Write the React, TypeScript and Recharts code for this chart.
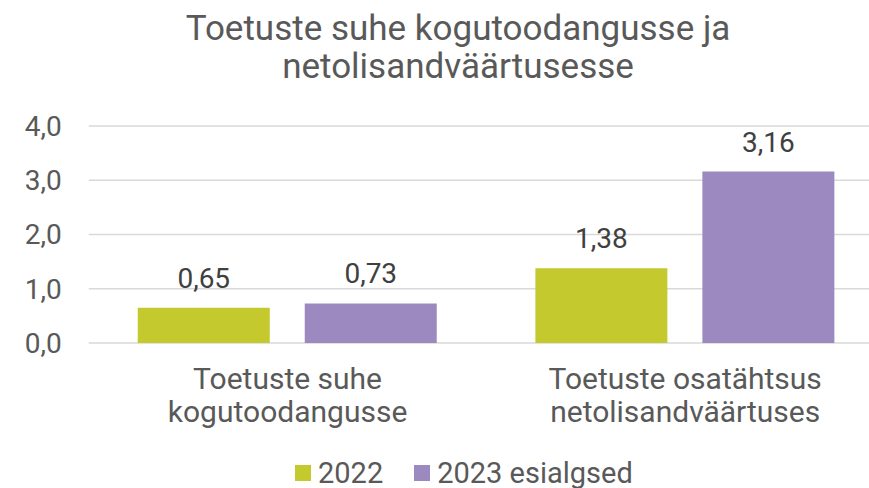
import React from "react";
import { BarChart, Bar, XAxis, YAxis, CartesianGrid, Legend, LabelList } from "recharts";

const categories = ["Toetuste suhe\nkogutoodangusse", "Toetuste osatähtsus\nnetolisandväärtuses"];
const values2022 = [0.65, 1.38];
const values2023 = [0.73, 3.16];
const yTicks = [0, 1, 2, 3, 4];
const seriesNames = ["2022", "2023 esialgsed"];
const titleLines = ["Toetuste suhe kogutoodangusse ja", "netolisandväärtusesse"];

const data = categories.map((c, i) => ({ name: c, a: values2022[i], b: values2023[i] }));

const FONT = "Roboto, sans-serif";
const TEXT = "#595959";

const fmt1 = (v: number) => v.toFixed(1).replace(".", ",");
const fmt2 = (v: number) => Number(v).toFixed(2).replace(".", ",");

const CategoryTick = (props: any) => {
  const { x, y, payload } = props;
  const lines = String(payload.value).split("\n");
  return (
    <text x={x} y={y} textAnchor="middle" fill={TEXT} fontSize={30} fontFamily={FONT}>
      {lines.map((l, i) => (
        <tspan key={i} x={x} dy={i === 0 ? 46 : 33}>
          {l}
        </tspan>
      ))}
    </text>
  );
};

const LegendContent = (props: any) => {
  const { payload } = props;
  return (
    <div style={{ display: "flex", alignItems: "center", fontFamily: FONT, fontSize: 29, lineHeight: "36px", color: TEXT, height: 36 }}>
      {(payload || []).map((p: any, i: number) => (
        <div key={i} style={{ display: "flex", alignItems: "center", marginRight: i === 0 ? 31 : 0 }}>
          <div style={{ width: 16, height: 16, background: p.color, marginRight: 7 }} />
          <span>{p.value}</span>
        </div>
      ))}
    </div>
  );
};

export default function App() {
  return (
    <div style={{ position: "absolute", left: 0, top: 0, width: 869, height: 488, overflow: "hidden", background: "#fff" }}>
      <div
        style={{
          position: "absolute",
          left: 0,
          top: 0,
          width: 916,
          textAlign: "center",
          fontFamily: FONT,
          fontSize: 35,
          lineHeight: "38px",
          color: TEXT,
          paddingTop: 10,
          zIndex: 1,
        }}
      >
        {titleLines.map((t, i) => (
          <div key={i}>{t}</div>
        ))}
      </div>
      <BarChart
        width={900}
        height={488}
        data={data}
        margin={{ top: 126, right: 16, left: 0, bottom: 9 }}
        barGap={35}
        barSize={132}
      >
        <CartesianGrid vertical={false} stroke="#d9d9d9" strokeWidth={1.5} x={88.75} width={790} />
        <XAxis
          dataKey="name"
          axisLine={false}
          tickLine={false}
          tickSize={0}
          tickMargin={0}
          height={100}
          tick={<CategoryTick />}
          interval={0}
        />
        <YAxis
          domain={[0, 4]}
          ticks={yTicks}
          tickFormatter={fmt1}
          axisLine={false}
          tickLine={false}
          tickSize={0}
          tickMargin={27}
          width={88.75}
          tick={{ fill: TEXT, fontSize: 28, fontFamily: FONT }}
        />
        <Legend
          content={<LegendContent />}
          wrapperStyle={{ left: 295, top: 455, width: 500, height: 36 }}
        />
        <Bar dataKey="a" name={seriesNames[0]} fill="#c4c92d" isAnimationActive={false}>
          <LabelList dataKey="a" position="top" offset={20} formatter={fmt2} fill="#404040" fontSize={28} fontFamily={FONT} />
        </Bar>
        <Bar dataKey="b" name={seriesNames[1]} fill="#9c89c0" isAnimationActive={false}>
          <LabelList dataKey="b" position="top" offset={20} formatter={fmt2} fill="#404040" fontSize={28} fontFamily={FONT} />
        </Bar>
      </BarChart>
    </div>
  );
}
